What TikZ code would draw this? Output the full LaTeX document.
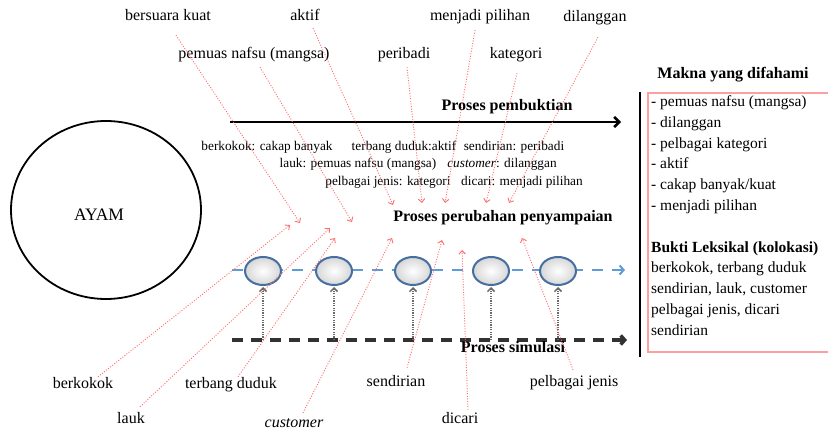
\documentclass[tikz,border=0pt]{standalone}
\usepackage{fontspec}
\setmainfont{Liberation Serif}
\usetikzlibrary{shapes.geometric,arrows.meta,calc}
\definecolor{redln}{RGB}{255,110,110}
\definecolor{blueln}{RGB}{95,155,215}
\definecolor{circblue}{RGB}{70,110,160}
\definecolor{grayarr}{RGB}{105,105,105}
\definecolor{dashgray}{RGB}{50,50,50}
\definecolor{pinkbox}{RGB}{255,160,160}
\begin{document}
\begin{tikzpicture}[x=1pt,y=-1pt,
  lbl/.style={font=\fontsize{16}{19}\selectfont, inner sep=0pt, text height=11pt, text depth=3pt},
  sml/.style={font=\fontsize{13.3}{16}\selectfont, inner sep=0pt, text height=9pt, text depth=2.5pt},
  bld/.style={font=\bfseries\fontsize{16}{19}\selectfont, inner sep=0pt, text height=11pt, text depth=3pt},
  boxln/.style={font=\fontsize{15.5}{19}\selectfont, inner sep=0pt, anchor=base west},
  redarr/.style={draw=redln, line width=0.9pt, dash pattern=on 1pt off 1.6pt, -{Straight Barb[length=3.5pt,width=6.5pt]}},
  grayarrow/.style={draw=grayarr, line width=1.5pt, dash pattern=on 1.2pt off 1.2pt, -{Straight Barb[length=3.5pt,width=7pt]}},
  bubble/.style={ellipse, draw=circblue, line width=2pt, minimum width=36pt, minimum height=28pt, inner sep=0pt,
    shading=radial, inner color=white, outer color=black!16}
]
\useasboundingbox (0,0) rectangle (828,430);
\fill[white] (0,0) rectangle (828,430);

% AYAM
\node[draw, ellipse, line width=1.8pt, minimum width=190pt, minimum height=178pt, inner sep=0pt] (ayam) at (106,210) {};
\node[lbl, font=\fontsize{17.5}{20}\selectfont] (ayamtxt) at (99,217) {AYAM};

% process lines
\coordinate (pbA) at (230,122);
\coordinate (pbB) at (621,122);
\draw[line width=2.6pt, -{Straight Barb[length=5pt,width=10pt]}] (pbA) -- (pbB);
\node[bld] (pbtxt) at (507,107) {Proses pembuktian};

\coordinate (blA) at (232,270);
\coordinate (blB) at (625,270);
\draw[draw=blueln, line width=2pt, dash pattern=on 11pt off 9pt, -{Straight Barb[length=4pt,width=9pt]}] (blA) -- (blB);

\coordinate (smA) at (232,340);
\coordinate (smB) at (627,340);
\draw[draw=dashgray, line width=3.5pt, dash pattern=on 11pt off 8pt, -{Straight Barb[length=4pt,width=9pt]}] (smA) -- (smB);
\node[bld] (smtxt) at (513,349) {Proses simulasi};

\node[bld] (pptxt) at (503,218) {Proses perubahan penyampaian};

% bubbles
\foreach \i/\x in {1/263,2/334,3/413,4/491,5/558}{
  \node[bubble] (c\i) at (\x,271) {};
  \draw[grayarrow] (c\i |- smA) -- ([yshift=-1pt]c\i.south);
}

% top labels
\node[lbl] (bk) at (168,17) {bersuara kuat};
\node[lbl] (ak) at (305,17) {aktif};
\node[lbl] (mp) at (480,17) {menjadi pilihan};
\node[lbl] (dl) at (595,18) {dilanggan};
\node[lbl] (pn) at (254,55) {pemuas nafsu (mangsa)};
\node[lbl] (pb) at (404,55) {peribadi};
\node[lbl] (kt) at (516,55) {kategori};

% middle labels
\node[sml] (m1) at (267,147) {berkokok: cakap banyak};
\node[sml] (m2) at (404,147) {terbang duduk:aktif};
\node[sml] (m3) at (514,147) {sendirian: peribadi};
\node[sml] (m4) at (358,164) {lauk: pemuas nafsu (mangsa)};
\node[sml] (m5) at (502,164) {\textit{customer}: dilanggan};
\node[sml] (m6) at (388,182) {pelbagai jenis: kategori};
\node[sml] (m7) at (522,182) {dicari: menjadi pilihan};

% bottom labels
\node[lbl] (b1) at (83,385) {berkokok};
\node[lbl] (b2) at (131,420) {lauk};
\node[lbl] (b3) at (231,385) {terbang duduk};
\node[lbl] (b4) at (294,424) {\textit{customer}};
\node[lbl] (b5) at (396,383) {sendirian};
\node[lbl] (b6) at (460,420) {dicari};
\node[lbl] (b7) at (574,383) {pelbagai jenis};

% arrow end points
\coordinate (e1) at (300,223);
\coordinate (e2) at (352,222);
\coordinate (e3) at (393,205);
\coordinate (e4) at (422,203);
\coordinate (e5) at (445,203);
\coordinate (e6) at (486,203);
\coordinate (e7) at (509,203);
\coordinate (u1) at (290,225);
\coordinate (u2) at (330,228);
\coordinate (u3) at (335,238);
\coordinate (u4) at (392,238);
\coordinate (u5) at (442,240);
\coordinate (u6) at (462,250);
\coordinate (u7) at (522,238);

% downward red arrows
\draw[redarr] ([shift={(8,11)}]bk.south) -- (e1);
\draw[redarr] ([shift={(6,5)}]pn.south) -- (e2);
\draw[redarr] ([shift={(8,4)}]ak.south) -- (e3);
\draw[redarr] ([shift={(3,5)}]pb.south) -- (e4);
\draw[redarr] ([shift={(-5,6)}]mp.south) -- (e5);
\draw[redarr] ([shift={(1,11)}]kt.south) -- (e6);
\draw[redarr] ([shift={(3,12)}]dl.south) -- (e7);

% upward red arrows
\draw[redarr] ([shift={(15,-1)}]b1.north) -- (u1);
\draw[redarr] ([shift={(9,-6)}]b2.north) -- (u2);
\draw[redarr] ([shift={(7,-1)}]b3.north) -- (u3);
\draw[redarr] ([shift={(9,-4)}]b4.north) -- (u4);
\draw[redarr] ([shift={(11,-8)}]b5.north) -- (u5);
\draw[redarr] ([shift={(8,-3)}]b6.north) -- (u6);
\draw[redarr] ([shift={(-1,-6)}]b7.north) -- (u7);

% right side
\coordinate (vA) at (640,92);
\coordinate (vB) at (640,357);
\draw[line width=2.8pt] (vA) -- (vB);
\node[bld] (mk) at (733,75) {Makna yang difahami};
\draw[draw=pinkbox, line width=1.2pt] (648,93) rectangle (835,352);
\node[boxln] (t1) at (651,106.5) {- pemuas nafsu (mangsa)};
\node[boxln] (t2) at (651,127.3) {- dilanggan};
\node[boxln] (t3) at (651,148.1) {- pelbagai kategori};
\node[boxln] (t4) at (651,168.9) {- aktif};
\node[boxln] (t5) at (651,189.7) {- cakap banyak/kuat};
\node[boxln] (t6) at (651,210.5) {- menjadi pilihan};
\node[boxln] (t7) at (651,252.1) {\textbf{Bukti Leksikal (kolokasi)}};
\node[boxln] (t8) at (651,272.9) {berkokok, terbang duduk};
\node[boxln] (t9) at (651,293.7) {sendirian, lauk, customer};
\node[boxln] (t10) at (651,314.5) {pelbagai jenis, dicari};
\node[boxln] (t11) at (651,335.3) {sendirian};
\end{tikzpicture}
\end{document}
